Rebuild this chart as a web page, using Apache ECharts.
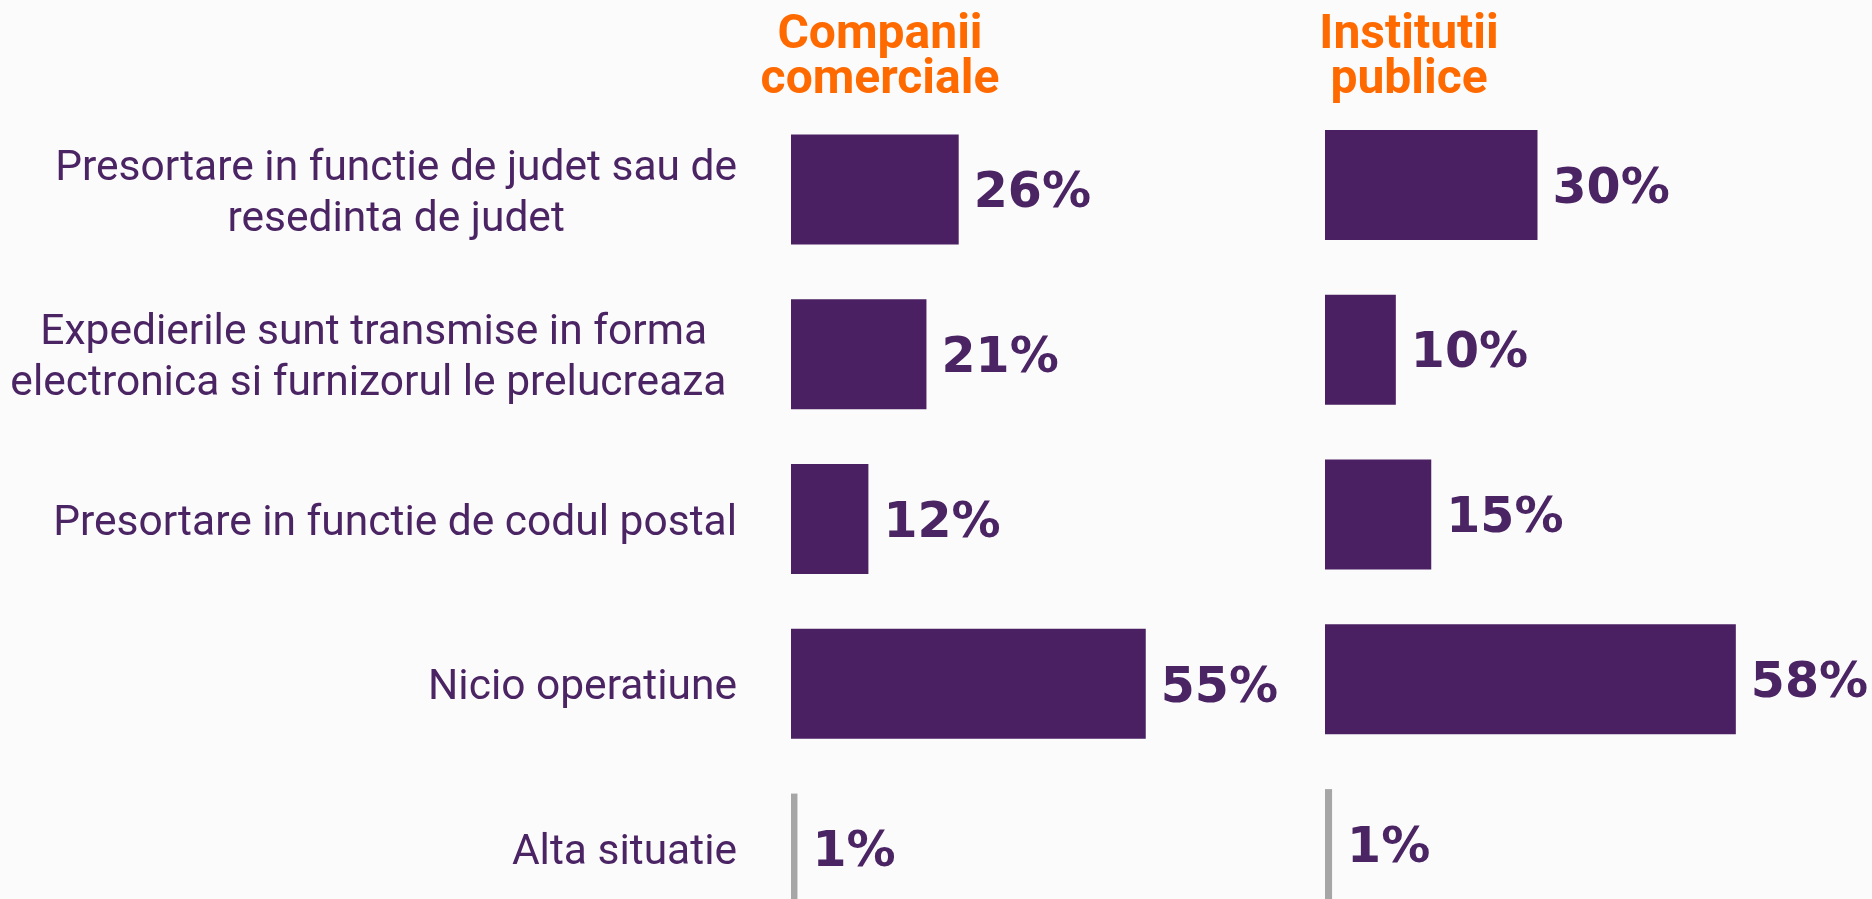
<!DOCTYPE html>
<html>
<head>
<meta charset="utf-8">
<title>Operatiuni de presortare</title>
<script src="https://cdn.jsdelivr.net/npm/echarts@6/dist/echarts.min.js"></script>
<style>
  html, body { margin: 0; padding: 0; background: #fbfbfb; overflow: hidden; }
  /* graficul continua sub marginea ferestrei, ca in original (ultima bara e taiata) */
  #main { width: 1872px; height: 940px; }
</style>
</head>
<body>
<div id="main"></div>
<script>
// categorii (liniile sunt rupte ca in original)
const categories = [
  'Presortare in functie de judet sau de\nresedinta de judet',
  'Expedierile sunt transmise in forma\nelectronica si furnizorul le prelucreaza ',
  'Presortare in functie de codul postal',
  'Nicio operatiune',
  'Alta situatie'
];
const companiiValues = [26, 21, 12, 55, 1];
const institutiiValues = [30, 10, 15, 58, 1];
const panelTitles = ['Companii\ncomerciale', 'Institutii\npublice'];

const PURPLE = '#4a2062';
const TEXT_PURPLE = '#4b2464';
const GREY = '#a6a6a6';
const ORANGE = '#ff6a00';

let chart = echarts.init(document.getElementById('main'));

function barColor(p) {
  // ultima categorie (Alta situatie) e gri
  return p.name === 'Alta situatie' ? GREY : PURPLE;
}

const valueLabel = {
  show: true,
  position: 'right',
  distance: 15,
  offset: [0, 5],
  formatter: '{c}%',
  color: TEXT_PURPLE,
  fontFamily: 'DejaVu Sans',
  fontWeight: 'bold',
  fontSize: 49
};

const titleStyle = {
  color: ORANGE,
  fontFamily: 'Roboto',
  fontWeight: 'bold',
  fontSize: 48,
  lineHeight: 45
};

let option = {
  backgroundColor: '#fbfbfb',
  animation: false,
  title: [
    { text: panelTitles[0], left: 880, top: 13, padding: 0, textAlign: 'center', textStyle: titleStyle },
    { text: panelTitles[1], left: 1409, top: 13, padding: 0, textAlign: 'center', textStyle: titleStyle }
  ],
  grid: [
    { left: 791, top: 107, width: 387, height: 824 },
    { left: 1325, top: 102.5, width: 425, height: 824 }
  ],
  xAxis: [
    { gridIndex: 0, type: 'value', min: 0, max: 60, show: false },
    { gridIndex: 1, type: 'value', min: 0, max: 60, show: false }
  ],
  yAxis: [
    {
      gridIndex: 0,
      type: 'category',
      data: categories,
      inverse: true,
      axisLine: { show: false },
      axisTick: { show: false },
      splitLine: { show: false },
      axisLabel: {
        margin: 54,
        align: 'right',
        padding: [10, 0, 0, 0],
        formatter: function (value) {
          return value.split('\n').map(function (l) { return '{c|' + l + '}'; }).join('\n');
        },
        rich: {
          c: {
            align: 'center',
            color: TEXT_PURPLE,
            fontFamily: 'Roboto',
            fontSize: 42.5,
            lineHeight: 51
          }
        }
      }
    },
    {
      gridIndex: 1,
      type: 'category',
      data: categories,
      inverse: true,
      axisLine: { show: false },
      axisTick: { show: false },
      splitLine: { show: false },
      axisLabel: { show: false }
    }
  ],
  series: [
    {
      name: 'Companii comerciale',
      type: 'bar',
      xAxisIndex: 0,
      yAxisIndex: 0,
      barWidth: 110,
      data: companiiValues,
      itemStyle: { color: barColor },
      label: valueLabel
    },
    {
      name: 'Institutii publice',
      type: 'bar',
      xAxisIndex: 1,
      yAxisIndex: 1,
      barWidth: 110,
      data: institutiiValues,
      itemStyle: { color: barColor },
      label: valueLabel
    }
  ]
};

chart.setOption(option);
</script>
</body>
</html>
